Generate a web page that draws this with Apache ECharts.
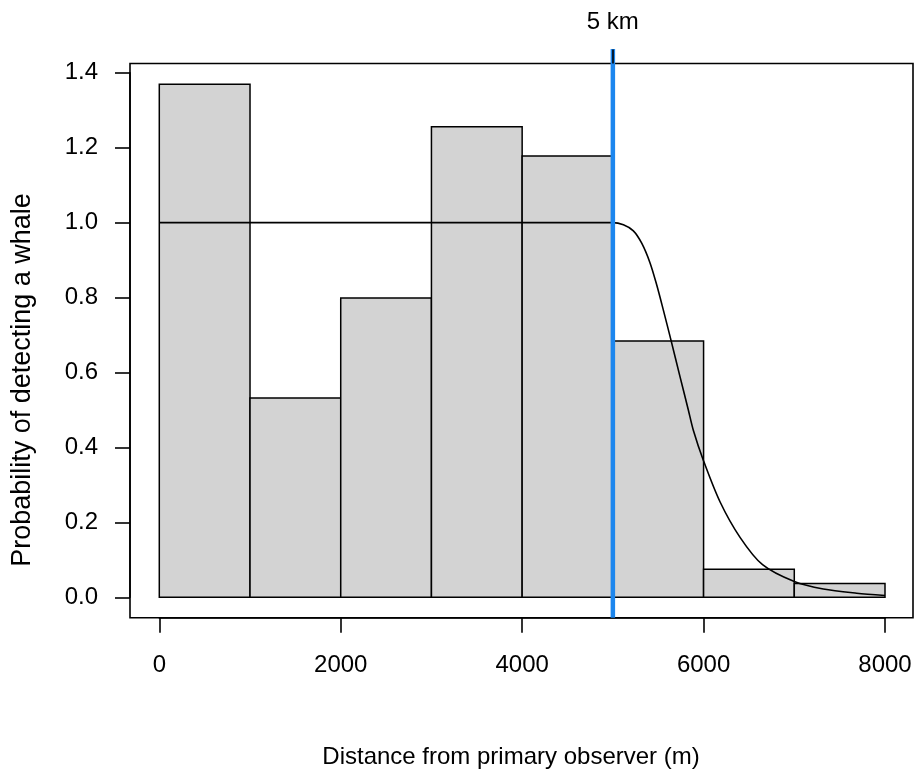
<!doctype html>
<html lang="en">
<head>
    <meta charset="UTF-8">
    <title>Detection probability</title>
    <script src="https://cdn.jsdelivr.net/npm/echarts@6/dist/echarts.min.js"></script>
    <style>
        html, body { margin: 0; padding: 0; background: #fff; }
        #chart { width: 915px; height: 771px; }
    </style>
</head>
<body>
<div id="chart"></div>
<script>
    // histogram bins (m) and heights
    var binStart = [0, 1000, 2000, 3000, 4000, 5000, 6000, 7000];
    var binEnd = [1000, 2000, 3000, 4000, 5000, 6000, 7000, 8000];
    var binHeight = [1.369, 0.532, 0.799, 1.256, 1.178, 0.684, 0.075, 0.037];

    // detection curve, points
    var curveX = [0, 5000, 5116, 5226, 5318, 5409, 5483, 5556, 5640, 5740, 5832, 5887, 5997, 6181, 6402, 6650, 7000, 7320, 7688, 8000];
    var curveY = [1.0, 1.0, 0.994, 0.978, 0.945, 0.893, 0.834, 0.767, 0.687, 0.589, 0.5, 0.446, 0.366, 0.255, 0.16, 0.087, 0.042, 0.022, 0.011, 0.005];

    // 5 km cut-off line
    var cutX = [5000, 5000];
    var cutY = [-0.0545, 1.463];

    var xTicks = { min: 0, max: 8000, interval: 2000 };
    var yTicks = { min: 0, max: 1.4, interval: 0.2 };

    var font = '"Liberation Sans", Arial, Helvetica, sans-serif';

    var hist = [];
    for (var i = 0; i < binStart.length; i++) {
        hist.push([binStart[i], binEnd[i], binHeight[i]]);
    }
    var curve = [];
    for (var j = 0; j < curveX.length; j++) {
        curve.push([curveX[j], curveY[j]]);
    }
    var cut = [[cutX[0], cutY[0]], [cutX[1], cutY[1]]];

    var myChart = echarts.init(document.getElementById('chart'));
    var option = {
        animation: false,
        backgroundColor: '#fff',
        textStyle: { fontFamily: font },
        grid: [
            { left: 159.3, top: 72.7, width: 725.7, height: 524.6 },
            { left: 130, top: 63.5, width: 783, height: 554.2, show: true,
              borderColor: '#000', borderWidth: 1.6, backgroundColor: 'transparent' }
        ],
        xAxis: [
            {
                type: 'value', gridIndex: 0, min: xTicks.min, max: xTicks.max, interval: xTicks.interval,
                offset: 20.4,
                axisLine: { show: true, onZero: false, lineStyle: { color: '#000', width: 1.6 } },
                axisTick: { show: true, length: 15, lineStyle: { color: '#000', width: 1.6 } },
                axisLabel: { margin: 36, color: '#000', fontSize: 24, fontFamily: font,
                             formatter: function (v) { return String(v); } },
                splitLine: { show: false }
            },
            {
                type: 'value', gridIndex: 0, position: 'top', min: xTicks.min, max: xTicks.max,
                offset: 9.2, z: 10,
                axisLine: { show: false, onZero: false },
                axisTick: { show: true, length: 14, customValues: [5000], lineStyle: { color: '#000', width: 1.6 } },
                axisLabel: { customValues: [5000], margin: 29, color: '#000', fontSize: 24, fontFamily: font,
                             formatter: function () { return '5 km'; } },
                splitLine: { show: false }
            },
            { type: 'value', gridIndex: 1, show: false, min: -320, max: 8320 }
        ],
        yAxis: [
            {
                type: 'value', gridIndex: 0, min: yTicks.min, max: yTicks.max, interval: yTicks.interval,
                offset: 29.3,
                axisLine: { show: true, onZero: false, lineStyle: { color: '#000', width: 1.6 } },
                axisTick: { show: true, length: 15, lineStyle: { color: '#000', width: 1.6 } },
                axisLabel: { margin: 32, color: '#000', fontSize: 24, fontFamily: font,
                             formatter: function (v) { return v.toFixed(1); } },
                splitLine: { show: false }
            },
            { type: 'value', gridIndex: 1, show: false, min: -0.0548, max: 1.4248 }
        ],
        graphic: [
            {
                type: 'text', x: 511, y: 757,
                style: { text: 'Distance from primary observer (m)', font: '24px ' + font,
                         fill: '#000', align: 'center', verticalAlign: 'middle' }
            },
            {
                type: 'text', x: 23, y: 380, rotation: Math.PI / 2,
                style: { text: 'Probability of detecting a whale', font: '27px ' + font,
                         fill: '#000', align: 'center', verticalAlign: 'middle' }
            }
        ],
        series: [
            {
                type: 'custom', xAxisIndex: 0, yAxisIndex: 0, data: hist, z: 1,
                renderItem: function (params, api) {
                    var p0 = api.coord([api.value(0), api.value(2)]);
                    var p1 = api.coord([api.value(1), 0]);
                    return {
                        type: 'rect',
                        shape: { x: p0[0], y: p0[1], width: p1[0] - p0[0], height: p1[1] - p0[1] },
                        style: { fill: '#D3D3D3', stroke: '#000', lineWidth: 1.5 }
                    };
                }
            },
            {
                type: 'line', xAxisIndex: 0, yAxisIndex: 0, data: curve, z: 2,
                symbol: 'none', smooth: 0.3,
                lineStyle: { color: '#000', width: 1.6 }
            },
            {
                type: 'line', xAxisIndex: 0, yAxisIndex: 0, data: cut, z: 3,
                symbol: 'none', clip: false,
                lineStyle: { color: '#1C86EE', width: 4.5 }
            }
        ]
    };
    myChart.setOption(option);
</script>
</body>
</html>
